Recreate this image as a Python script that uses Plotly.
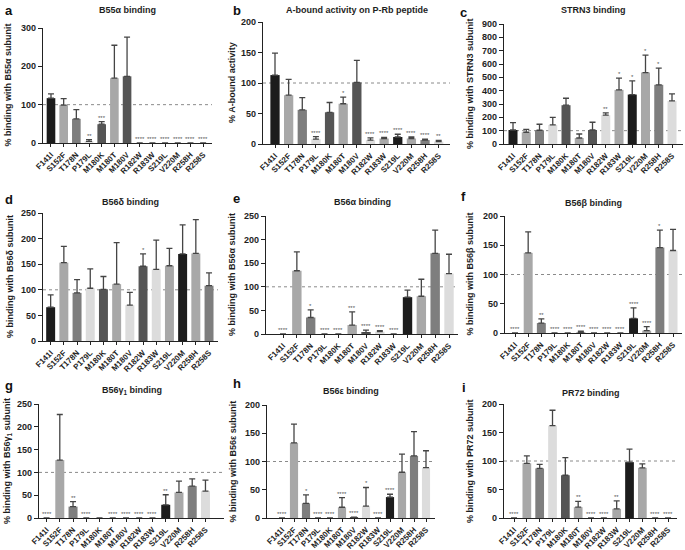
import plotly.graph_objects as go

W, H = 685, 550

categories = ["F141I", "S152F", "T178N", "P179L", "M180K", "M180T", "M180V",
              "R182W", "R183W", "S219L", "V220M", "R258H", "R258S"]

std_colors = ["#1c1c1c", "#a8a8a8", "#7e7e7e", "#dcdcdc", "#555555", "#a8a8a8", "#555555",
              "#dcdcdc", "#a8a8a8", "#1c1c1c", "#a8a8a8", "#7e7e7e", "#dcdcdc"]
d_colors = ["#1c1c1c", "#a8a8a8", "#7e7e7e", "#dcdcdc", "#555555", "#a8a8a8", "#dcdcdc",
            "#555555", "#dcdcdc", "#a8a8a8", "#1c1c1c", "#a8a8a8", "#7e7e7e"]

# a: B55alpha binding
a_vals = [117, 99, 63, 4, 49, 169, 174, 0, 0, 0, 0, 0, 0]
a_errs = [11, 17, 24, 5, 7, 86, 102, 0, 0, 0, 0, 0, 0]
a_sig = ["", "", "", "**", "***", "", "", "****", "****", "****", "****", "****", "****"]

# b: A-bound activity on P-Rb peptide
b_vals = [113, 80, 56, 8, 52, 66, 101, 6.5, 9, 11.5, 9, 6.5, 4]
b_errs = [36, 26, 20, 4, 16, 11, 36, 3.5, 2, 4.5, 2.5, 1.5, 2]
b_sig = ["", "", "", "****", "", "*", "", "****", "****", "****", "****", "****", "**"]

# c: STRN3 binding
c_vals = [105, 88, 103, 143, 291, 45, 105, 216, 406, 371, 536, 444, 323]
c_errs = [55, 22, 45, 57, 52, 30, 58, 17, 88, 103, 131, 125, 53]
c_sig = ["", "", "", "", "", "", "", "**", "*", "*", "*", "*", ""]

# d: B56delta binding
d_vals = [66, 153, 94, 103, 101, 111, 70, 146, 140, 147, 170, 171, 108]
d_errs = [24, 32, 26, 38, 25, 81, 25, 24, 57, 34, 57, 66, 25]
d_sig = ["", "", "", "", "", "", "", "*", "", "", "", "", ""]

# e: B56alpha binding
e_vals = [0, 134, 35, 0, 0, 19, 3, 5, 0, 78, 80, 171, 128]
e_errs = [0, 40, 16, 0, 0, 28, 5, 2, 0, 15, 36, 49, 41]
e_sig = ["****", "", "*", "****", "****", "***", "****", "****", "****", "", "", "", ""]

# f: B56beta binding
f_vals = [0, 137, 17, 0, 0, 1, 0, 0, 0, 25, 4, 146, 141]
f_errs = [0, 36, 7, 0, 0, 2, 0, 0, 0, 18, 7, 30, 36]
f_sig = ["****", "", "**", "****", "****", "****", "****", "****", "****", "****", "****", "*", ""]

# g: B56gamma1 binding
g_vals = [0, 127, 25, 0, 0, 0, 0, 0, 0, 29, 56, 70, 59]
g_errs = [0, 100, 11, 0, 0, 0, 0, 0, 0, 22, 25, 16, 24]
g_sig = ["****", "", "**", "****", "", "****", "****", "****", "****", "**", "", "", ""]

# h: B56epsilon binding
h_vals = [0, 133, 26, 0, 0, 19, 1.5, 21, 0, 37, 81, 110, 89]
h_errs = [0, 33, 15, 0, 0, 17, 0, 33, 0, 5, 32, 43, 30]
h_sig = ["****", "", "*", "****", "****", "****", "****", "*", "****", "****", "", "", ""]

# i: PR72 binding
i_vals = [0, 96, 87, 162, 75, 19, 0, 0, 16, 98, 88, 0, 0]
i_errs = [0, 13, 7, 27, 31, 10, 0, 0, 14, 23, 7, 0, 0]
i_sig = ["****", "", "", "", "", "**", "****", "****", "**", "", "", "****", "****"]

panels = [
    dict(letter="a", title="B55α binding", ylabel="% binding with B55α subunit",
         vals=a_vals, errs=a_errs, sig=a_sig, colors=std_colors, ymax=300, dtick=100,
         box=(43, 212, 28, 143), pad=(0.63, 0.7), title_y=10, letter_xy=(3, 10), ylab_x=7),
    dict(letter="b", title="A-bound activity on P-Rb peptide", ylabel="% A-bound activity",
         vals=b_vals, errs=b_errs, sig=b_sig, colors=std_colors, ymax=200, dtick=50,
         box=(263, 450, 22, 144), pad=(0.88, 0.83), title_y=10, letter_xy=(231, 10), ylab_x=232),
    dict(letter="c", title="STRN3 binding", ylabel="% binding with STRN3 subunit",
         vals=c_vals, errs=c_errs, sig=c_sig, colors=std_colors, ymax=900, dtick=100,
         box=(504, 683, 24, 144), pad=(0.68, 0.83), title_y=10, letter_xy=(458, 12), ylab_x=470),
    dict(letter="d", title="B56δ binding", ylabel="% binding with B56δ subunit",
         vals=d_vals, errs=d_errs, sig=d_sig, colors=d_colors, ymax=250, dtick=50,
         box=(43, 218, 213, 341), pad=(0.58, 0.68), title_y=202, letter_xy=(3, 199), ylab_x=10),
    dict(letter="e", title="B56α binding", ylabel="% binding with B56α subunit",
         vals=e_vals, errs=e_errs, sig=e_sig, colors=std_colors, ymax=250, dtick=50,
         box=(266, 458, 216, 334), pad=(1.23, 0.65), title_y=202, letter_xy=(231, 198), ylab_x=232),
    dict(letter="f", title="B56β binding", ylabel="% binding with B56β subunit",
         vals=f_vals, errs=f_errs, sig=f_sig, colors=std_colors, ymax=200, dtick=50,
         box=(505, 682, 216, 333), pad=(0.76, 0.68), title_y=203, letter_xy=(459, 196), ylab_x=470),
    dict(letter="g", title="B56γ<sub>1</sub> binding", ylabel="% binding with B56γ<sub>1</sub> subunit",
         vals=g_vals, errs=g_errs, sig=g_sig, colors=std_colors, ymax=250, dtick=50,
         box=(39, 224, 404, 518), pad=(0.57, 1.4), title_y=390, letter_xy=(3, 385), ylab_x=7),
    dict(letter="h", title="B56ε binding", ylabel="% binding with B56ε subunit",
         vals=h_vals, errs=h_errs, sig=h_sig, colors=std_colors, ymax=200, dtick=50,
         box=(267, 435, 405, 518), pad=(1.25, 0.75), title_y=391, letter_xy=(231, 383), ylab_x=232),
    dict(letter="i", title="PR72 binding", ylabel="% binding with PR72 subunit",
         vals=i_vals, errs=i_errs, sig=i_sig, colors=std_colors, ymax=200, dtick=50,
         box=(504, 677, 404, 518), pad=(0.78, 0.7), title_y=393, letter_xy=(460, 387), ylab_x=470),
]

FONT = "Liberation Sans, Arial, Helvetica, sans-serif"
TXT = "#1e1e1e"

fig = go.Figure()
layout = dict(
    width=W, height=H, template="none",
    margin=dict(l=0, r=0, t=0, b=0),
    paper_bgcolor="white", plot_bgcolor="white",
    font=dict(family=FONT, color=TXT, size=9),
    showlegend=False,
)
annotations = []
shapes = []

for k, p in enumerate(panels):
    n = k + 1
    xa = "x" if n == 1 else f"x{n}"
    ya = "y" if n == 1 else f"y{n}"
    xl = "xaxis" if n == 1 else f"xaxis{n}"
    yl = "yaxis" if n == 1 else f"yaxis{n}"
    x0, x1, yt, yb = p["box"]
    padl, padr = p["pad"]

    fig.add_trace(go.Bar(
        x=categories, y=p["vals"], xaxis=xa, yaxis=ya, width=0.68,
        marker=dict(color=p["colors"], line=dict(width=0)),
        error_y=dict(type="data", symmetric=False, array=p["errs"],
                     arrayminus=[0] * len(categories), color="#454545",
                     thickness=1.3, width=3),
        hoverinfo="skip", showlegend=False,
    ))

    layout[xl] = dict(
        domain=[x0 / W, x1 / W], anchor=ya, type="category",
        categoryorder="array", categoryarray=categories,
        range=[-padl, len(categories) - 1 + padr],
        tickangle=-45, tickfont=dict(size=8, color=TXT, family=FONT, weight="bold"),
        showline=True, linecolor="#222222", linewidth=1.2,
        ticks="outside", ticklen=3, tickwidth=1, tickcolor="#222222",
        showgrid=False, zeroline=False, automargin=False, fixedrange=True,
    )
    layout[yl] = dict(
        domain=[1 - yb / H, 1 - yt / H], anchor=xa,
        range=[0, p["ymax"]], dtick=p["dtick"], tick0=0,
        tickfont=dict(size=9, color=TXT, family=FONT, weight="bold"),
        showline=True, linecolor="#222222", linewidth=1.2,
        ticks="outside", ticklen=4, tickwidth=1, tickcolor="#222222",
        showgrid=False, zeroline=False, automargin=False, fixedrange=True,
    )

    shapes.append(dict(type="line", xref=f"{xa} domain", yref=ya, x0=0, x1=1,
                       y0=100, y1=100, line=dict(color="#8a8a8a", width=1, dash="dot"),
                       layer="below"))

    for j, s in enumerate(p["sig"]):
        if s:
            annotations.append(dict(
                x=categories[j], y=p["vals"][j] + p["errs"][j], xref=xa, yref=ya,
                text=s, showarrow=False, yanchor="bottom", yshift=-1,
                font=dict(size=6, color="#555555", family=FONT)))

    annotations.append(dict(
        x=(x0 + x1) / 2 / W, y=1 - p["title_y"] / H, xref="paper", yref="paper",
        text=p["title"], showarrow=False, xanchor="center", yanchor="middle",
        font=dict(size=9, color=TXT, family=FONT, weight="bold")))
    lx, ly = p["letter_xy"]
    annotations.append(dict(
        x=lx / W, y=1 - ly / H, xref="paper", yref="paper",
        text=p["letter"], showarrow=False, xanchor="left", yanchor="middle",
        font=dict(size=13, color="#111111", family=FONT, weight="bold")))
    annotations.append(dict(
        x=p["ylab_x"] / W, y=1 - (yt + yb) / 2 / H, xref="paper", yref="paper",
        text=p["ylabel"], showarrow=False, textangle=-90,
        xanchor="center", yanchor="middle",
        font=dict(size=9, color=TXT, family=FONT, weight="bold")))

layout["annotations"] = annotations
layout["shapes"] = shapes
fig.update_layout(**layout)
fig.write_html(
    "out.html",
    config={"displayModeBar": False},
    post_script="document.body.style.margin='0';document.body.style.padding='0';",
)
